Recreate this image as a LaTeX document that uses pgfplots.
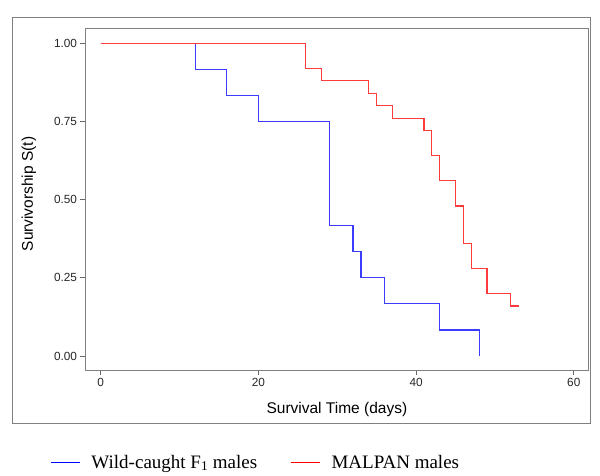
\documentclass[border=0pt]{standalone}
\usepackage{pgfplots}
\pgfplotsset{compat=1.18}
\usepackage{fontspec}
\setmainfont{Liberation Sans}
\newfontfamily\timesfont{Liberation Serif}
\definecolor{kmblue}{RGB}{60,60,255}
\definecolor{kmred}{RGB}{255,60,60}
\definecolor{framegray}{RGB}{128,128,128}
\begin{document}
\begin{tikzpicture}
\useasboundingbox (0pt,0pt) rectangle (600pt,-475pt);
\draw[framegray, line width=1pt] (12.7pt,-17.5pt) rectangle (590.5pt,-423pt);
\begin{axis}[
  at={(85.5pt,-370pt)}, anchor=south west,
  scale only axis, width=502.8pt, height=341.7pt,
  xmin=-1.93, xmax=61.84, ymin=-0.0448, ymax=1.048,
  axis line style={framegray, line width=1pt},
  xtick={0,20,40,60}, ytick={0,0.25,0.5,0.75,1},
  yticklabel style={/pgf/number format/.cd, fixed, fixed zerofill, precision=2},
  xtick pos=left, ytick pos=left,
  tick align=outside, major tick length=5pt,
  tick style={black!60, line width=0.8pt},
  /pgf/number format/assume math mode=true,
  ticklabel style={font=\fontsize{11.8}{13}\selectfont, text=black!85},
  xlabel={Survival Time (days)}, ylabel={Survivorship S(t)},
  label style={font=\fontsize{15.5}{18}\selectfont},
  xlabel style={at={(axis description cs:0.5,-0.117)}, anchor=center},
  ylabel style={at={(axis description cs:-0.1124,0.515)}, anchor=center, rotate=0},
  legend columns=2,
  legend style={at={(axis description cs:-0.0706,-0.27)}, anchor=west,
    draw=none, fill=none, inner sep=0pt,
    nodes={inner sep=0pt, font=\timesfont\fontsize{19}{22}\selectfont},
    /tikz/every odd column/.append style={column sep=11pt},
    /tikz/every even column/.append style={column sep=33pt}},
  legend image code/.code={\draw[#1] (0pt,0pt) -- (29pt,0pt);},
]
\addplot[const plot, color=kmblue, line width=1.2pt, forget plot] coordinates {
  (0,1) (12,0.9167) (16,0.8333) (20,0.75) (29,0.4167) (32,0.3333)
  (33,0.25) (36,0.1667) (43,0.0833) (48,0)
};
\addplot[const plot, color=kmred, line width=1.2pt, forget plot] coordinates {
  (0,1) (26,0.92) (28,0.88) (34,0.84) (35,0.80) (37,0.76) (41,0.72)
  (42,0.64) (43,0.56) (45,0.48) (46,0.36) (47,0.28) (49,0.20) (52,0.16) (53,0.16)
};
\addlegendimage{blue, line width=1.3pt}
\addlegendentry{Wild-caught F\textsubscript{1} males}
\addlegendimage{red, line width=1.3pt}
\addlegendentry{MALPAN males}
\end{axis}
\end{tikzpicture}
\end{document}
